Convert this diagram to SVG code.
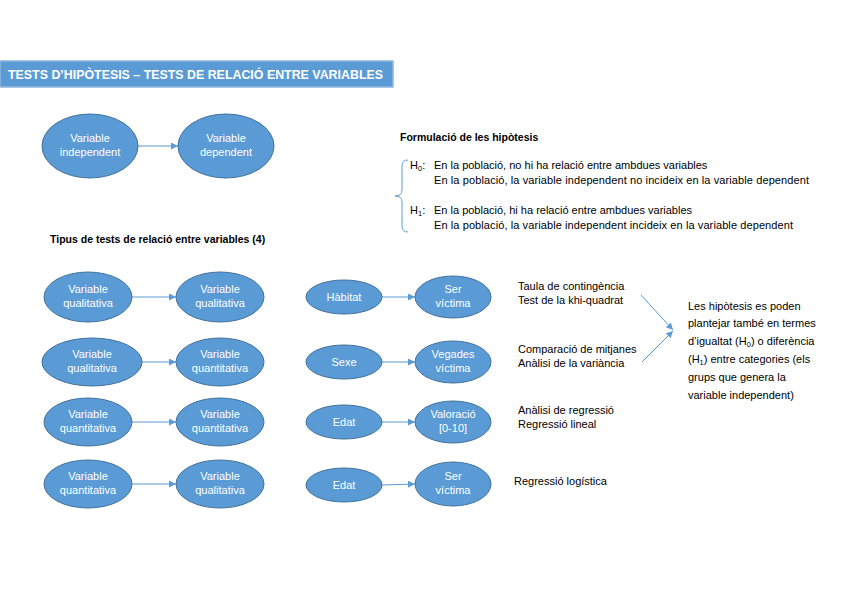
<svg xmlns="http://www.w3.org/2000/svg" width="848" height="600" viewBox="0 0 848 600">
<defs>
<style>
.bg{fill:#ffffff}
.bar{fill:#5b9bd5;stroke:#8fb8e0;stroke-width:1.5}
.title{font-family:"Liberation Sans",Arial,sans-serif;font-weight:bold;font-size:13px;fill:#ffffff}
.node{fill:#5b9bd5;stroke:#41719c;stroke-width:1}
.nt{font-family:"Liberation Sans",Arial,sans-serif;font-size:11px;fill:#ffffff;text-anchor:middle}
.conn{stroke:#5b9bd5;stroke-width:1;fill:none}
.t{font-family:"Liberation Sans",Arial,sans-serif;font-size:11px;fill:#000000}
.b{font-family:"Liberation Sans",Arial,sans-serif;font-size:10.5px;font-weight:bold;fill:#000000}
.brace{stroke:#5b9bd5;stroke-width:1;fill:none}
</style>
<marker id="arr" viewBox="0 0 10 10" refX="10" refY="5" markerWidth="7" markerHeight="7" markerUnits="userSpaceOnUse" orient="auto">
<path d="M0,0 L10,5 L0,10 z" fill="#5b9bd5"/>
</marker>
</defs>
<rect class="bg" x="0" y="0" width="848" height="600"/>

<g id="title">
<rect class="bar" x="0" y="61" width="393" height="26"/>
<text class="title" x="8" y="79" textLength="375" lengthAdjust="spacingAndGlyphs">TESTS D’HIPÒTESIS – TESTS DE RELACIÓ ENTRE VARIABLES</text>
</g>

<g id="connectors">
<line class="conn" x1="138" y1="146" x2="178" y2="146" marker-end="url(#arr)"/>
<line class="conn" x1="132" y1="297" x2="176" y2="297" marker-end="url(#arr)"/>
<line class="conn" x1="382" y1="297" x2="415" y2="297" marker-end="url(#arr)"/>
<line class="conn" x1="142" y1="362" x2="176" y2="362" marker-end="url(#arr)"/>
<line class="conn" x1="382" y1="362" x2="415" y2="362" marker-end="url(#arr)"/>
<line class="conn" x1="132" y1="422" x2="176" y2="422" marker-end="url(#arr)"/>
<line class="conn" x1="382" y1="422" x2="415" y2="422" marker-end="url(#arr)"/>
<line class="conn" x1="132" y1="484" x2="176" y2="484" marker-end="url(#arr)"/>
<line class="conn" x1="382" y1="485" x2="415" y2="484" marker-end="url(#arr)"/>
<line class="conn" x1="641" y1="295" x2="673" y2="330" marker-end="url(#arr)"/>
<line class="conn" x1="642" y1="362" x2="673" y2="331" marker-end="url(#arr)"/>
</g>

<g id="n-indep">
<ellipse class="node" cx="90" cy="146" rx="48" ry="32"/>
<text class="nt" x="90" y="142">Variable</text>
<text class="nt" x="90" y="156">independent</text>
</g>
<g id="n-dep">
<ellipse class="node" cx="226" cy="146" rx="48" ry="32"/>
<text class="nt" x="226" y="142">Variable</text>
<text class="nt" x="226" y="156">dependent</text>
</g>

<g id="formulacio">
<text class="b" x="400" y="141">Formulació de les hipòtesis</text>
<path class="brace" d="M408,160 Q402,160 402,166 L402,190 Q402,196 395,196 Q402,196 402,202 L402,226 Q402,232 408,232"/>
<text class="t" x="410" y="169">H<tspan font-size="7.5" dy="2">0</tspan><tspan dy="-2">:</tspan></text>
<text class="t" x="434" y="169">En la població, no hi ha relació entre ambdues variables</text>
<text class="t" x="434" y="184" textLength="375" lengthAdjust="spacing">En la població, la variable independent no incideix en la variable dependent</text>
<text class="t" x="410" y="214">H<tspan font-size="7.5" dy="2">1</tspan><tspan dy="-2">:</tspan></text>
<text class="t" x="434" y="214">En la població, hi ha relació entre ambdues variables</text>
<text class="t" x="434" y="229" textLength="359" lengthAdjust="spacing">En la població, la variable independent incideix en la variable dependent</text>
</g>

<g id="tipus">
<text class="b" x="50" y="243">Tipus de tests de relació entre variables (4)</text>
</g>

<g id="r1a"><ellipse class="node" cx="88" cy="297" rx="44" ry="25"/><text class="nt" x="88" y="293">Variable</text><text class="nt" x="88" y="307">qualitativa</text></g>
<g id="r1b"><ellipse class="node" cx="220" cy="297" rx="44" ry="25"/><text class="nt" x="220" y="293">Variable</text><text class="nt" x="220" y="307">qualitativa</text></g>
<g id="r1c"><ellipse class="node" cx="344" cy="297" rx="38" ry="17"/><text class="nt" x="344" y="301">Hàbitat</text></g>
<g id="r1d"><ellipse class="node" cx="453" cy="297" rx="38" ry="21"/><text class="nt" x="453" y="293">Ser</text><text class="nt" x="453" y="307">víctima</text></g>

<g id="r2a"><ellipse class="node" cx="92" cy="362" rx="50" ry="24"/><text class="nt" x="92" y="358">Variable</text><text class="nt" x="92" y="372">qualitativa</text></g>
<g id="r2b"><ellipse class="node" cx="220" cy="362" rx="44" ry="24"/><text class="nt" x="220" y="358">Variable</text><text class="nt" x="220" y="372">quantitativa</text></g>
<g id="r2c"><ellipse class="node" cx="344" cy="362" rx="38" ry="17"/><text class="nt" x="344" y="366">Sexe</text></g>
<g id="r2d"><ellipse class="node" cx="453" cy="362" rx="38" ry="21"/><text class="nt" x="453" y="358">Vegades</text><text class="nt" x="453" y="372">víctima</text></g>

<g id="r3a"><ellipse class="node" cx="88" cy="422" rx="44" ry="24"/><text class="nt" x="88" y="418">Variable</text><text class="nt" x="88" y="432">quantitativa</text></g>
<g id="r3b"><ellipse class="node" cx="220" cy="422" rx="44" ry="24"/><text class="nt" x="220" y="418">Variable</text><text class="nt" x="220" y="432">quantitativa</text></g>
<g id="r3c"><ellipse class="node" cx="344" cy="422" rx="38" ry="17"/><text class="nt" x="344" y="426">Edat</text></g>
<g id="r3d"><ellipse class="node" cx="453" cy="422" rx="38" ry="21"/><text class="nt" x="453" y="418">Valoració</text><text class="nt" x="453" y="432">[0-10]</text></g>

<g id="r4a"><ellipse class="node" cx="88" cy="484" rx="44" ry="24"/><text class="nt" x="88" y="480">Variable</text><text class="nt" x="88" y="494">quantitativa</text></g>
<g id="r4b"><ellipse class="node" cx="220" cy="484" rx="44" ry="24"/><text class="nt" x="220" y="480">Variable</text><text class="nt" x="220" y="494">qualitativa</text></g>
<g id="r4c"><ellipse class="node" cx="344" cy="485" rx="38" ry="17"/><text class="nt" x="344" y="489">Edat</text></g>
<g id="r4d"><ellipse class="node" cx="453" cy="484" rx="38" ry="22"/><text class="nt" x="453" y="480">Ser</text><text class="nt" x="453" y="494">víctima</text></g>

<g id="tests">
<text class="t" x="518" y="290">Taula de contingència</text>
<text class="t" x="518" y="304">Test de la khi-quadrat</text>
<text class="t" x="518" y="353">Comparació de mitjanes</text>
<text class="t" x="518" y="367">Anàlisi de la variància</text>
<text class="t" x="518" y="414">Anàlisi de regressió</text>
<text class="t" x="518" y="428">Regressió lineal</text>
<text class="t" x="514" y="485">Regressió logística</text>
</g>

<g id="nota">
<text class="t" x="688" y="310">Les hipòtesis es poden</text>
<text class="t" x="688" y="327">plantejar també en termes</text>
<text class="t" x="688" y="345">d’igualtat (H<tspan font-size="7.5" dy="2">0</tspan><tspan dy="-2">) o diferència</tspan></text>
<text class="t" x="688" y="363">(H<tspan font-size="7.5" dy="2">1</tspan><tspan dy="-2">) entre categories (els</tspan></text>
<text class="t" x="688" y="381">grups que genera la</text>
<text class="t" x="688" y="399">variable independent)</text>
</g>
</svg>
